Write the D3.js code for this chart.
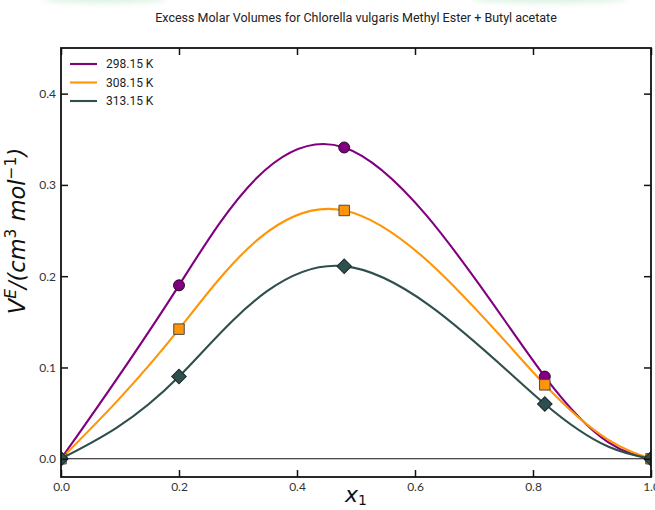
<!DOCTYPE html>
<html>
<head>
<meta charset="utf-8">
<script src="https://cdn.jsdelivr.net/npm/d3@7/dist/d3.min.js"></script>
<style>
  html, body { margin: 0; padding: 0; background: #fff; }
  svg { display: block; }
</style>
</head>
<body>
<svg id="chart" width="655" height="510"></svg>
<script>
// Mole fraction of methyl ester (x1)
const x1 = [0.0, 0.2, 0.48, 0.82, 1.0];
// Excess molar volumes (cm^3 mol^-1) at each temperature
const ve29815 = [0.0, 0.190, 0.341, 0.090, 0.0];
const ve30815 = [0.0, 0.142, 0.272, 0.081, 0.0];
const ve31315 = [0.0, 0.090, 0.211, 0.060, 0.0];
const seriesNames = ["298.15 K", "308.15 K", "313.15 K"];
const xTicks = [0.0, 0.2, 0.4, 0.6, 0.8, 1.0];
const yTicks = [0.0, 0.1, 0.2, 0.3, 0.4];

const series = [
  { name: seriesNames[0], values: ve29815, color: "#800080", edge: "#2a0a2a", shape: "circle" },
  { name: seriesNames[1], values: ve30815, color: "#ff9408", edge: "#4a4a4a", shape: "square" },
  { name: seriesNames[2], values: ve31315, color: "#2f4f4f", edge: "#1a2a2a", shape: "diamond" }
];

const svg = d3.select("#chart");
const plotL = 61, plotR = 651, plotT = 48, plotB = 477;

const x = d3.scaleLinear().domain([0, 1]).range([plotL, plotR]);
const y = d3.scaleLinear().domain([-0.02, 0.45]).range([plotB, plotT]);

// faint green glow along the top edge
const defs = svg.append("defs");
defs.append("filter").attr("id", "soft").attr("x", "-50%").attr("y", "-200%").attr("width", "200%").attr("height", "500%")
  .append("feGaussianBlur").attr("stdDeviation", 3);
defs.append("clipPath").attr("id", "plotclip")
  .append("rect").attr("x", plotL).attr("y", plotT).attr("width", plotR - plotL).attr("height", plotB - plotT);

const glow = svg.append("g").attr("filter", "url(#soft)").attr("opacity", 0.55);
glow.append("ellipse").attr("cx", 105).attr("cy", -2).attr("rx", 62).attr("ry", 5).attr("fill", "#b9e6c9");
glow.append("ellipse").attr("cx", 550).attr("cy", -2).attr("rx", 78).attr("ry", 5).attr("fill", "#b9e6c9");

// title
svg.append("text")
  .attr("x", 356).attr("y", 22)
  .attr("text-anchor", "middle")
  .attr("font-family", "Roboto, 'Noto Sans', sans-serif")
  .attr("font-size", 12.5)
  .attr("fill", "#222")
  .text("Excess Molar Volumes for Chlorella vulgaris Methyl Ester + Butyl acetate");

// zero reference line
svg.append("line")
  .attr("x1", plotL).attr("x2", plotR)
  .attr("y1", y(0)).attr("y2", y(0))
  .attr("stroke", "#111").attr("stroke-width", 1.2);

// curves and markers
const plot = svg.append("g").attr("clip-path", "url(#plotclip)");
const line = d3.line()
  .x((d, i) => x(x1[i]))
  .y(d => y(d))
  .curve(d3.curveNatural);

series.forEach(s => {
  plot.append("path")
    .attr("d", line(s.values))
    .attr("fill", "none")
    .attr("stroke", s.color)
    .attr("stroke-width", 2.1);
});

const symbolFor = {
  circle: d3.symbol().type(d3.symbolCircle).size(95),
  square: d3.symbol().type(d3.symbolSquare).size(110),
  diamond: d3.symbol().type(d3.symbolSquare).size(106)
};

series.forEach(s => {
  plot.selectAll(null)
    .data(s.values)
    .enter()
    .append("path")
    .attr("d", symbolFor[s.shape]())
    .attr("transform", (d, i) => `translate(${x(x1[i])},${y(d)})` + (s.shape === "diamond" ? " rotate(45)" : ""))
    .attr("fill", s.color)
    .attr("stroke", s.edge)
    .attr("stroke-width", 1);
});

// axes with inward ticks on all four sides
const tickFont = "Lato, 'Open Sans', sans-serif";
const fmt = d3.format(".1f");

const xBottom = svg.append("g").attr("transform", `translate(0,${plotB})`)
  .call(d3.axisBottom(x).tickValues(xTicks).tickFormat(fmt).tickSizeInner(-7).tickSizeOuter(0).tickPadding(5));
const xTop = svg.append("g").attr("transform", `translate(0,${plotT})`)
  .call(d3.axisTop(x).tickValues(xTicks).tickFormat("").tickSizeInner(-7).tickSizeOuter(0));
const yLeft = svg.append("g").attr("transform", `translate(${plotL},0)`)
  .call(d3.axisLeft(y).tickValues(yTicks).tickFormat(fmt).tickSizeInner(-7).tickSizeOuter(0).tickPadding(5));
const yRight = svg.append("g").attr("transform", `translate(${plotR},0)`)
  .call(d3.axisRight(y).tickValues(yTicks).tickFormat("").tickSizeInner(-7).tickSizeOuter(0));

[xBottom, xTop, yLeft, yRight].forEach(g => {
  g.select(".domain").remove();
  g.selectAll(".tick line").attr("stroke", "#111").attr("stroke-width", 1.5);
  g.selectAll(".tick text").attr("font-family", tickFont).attr("font-size", 12).attr("fill", "#333");
});

// frame
svg.append("rect")
  .attr("x", plotL).attr("y", plotT)
  .attr("width", plotR - plotL).attr("height", plotB - plotT)
  .attr("fill", "none").attr("stroke", "#111").attr("stroke-width", 1.8);

// legend
const legend = svg.append("g").attr("font-family", "Roboto, 'Noto Sans', sans-serif").attr("font-size", 12);
series.forEach((s, i) => {
  const ly = 64 + i * 18.5;
  legend.append("line").attr("x1", 70).attr("x2", 97).attr("y1", ly).attr("y2", ly)
    .attr("stroke", s.color).attr("stroke-width", 2.1);
  legend.append("text").attr("x", 106).attr("y", ly).attr("dy", "0.35em")
    .attr("fill", "#222").text(s.name);
});

// axis labels
const mathFont = "'DejaVu Sans', sans-serif";
const yl = svg.append("text")
  .attr("transform", "translate(25,231) rotate(-90)")
  .attr("text-anchor", "middle")
  .attr("font-family", mathFont)
  .attr("font-style", "italic")
  .attr("font-size", 22.5)
  .attr("fill", "#111");
yl.append("tspan").text("V");
yl.append("tspan").attr("font-size", 15.5).attr("dy", -9).text("E");
yl.append("tspan").attr("dy", 9).text("/(cm");
yl.append("tspan").attr("font-size", 15.5).attr("dy", -9).attr("font-style", "normal").text("3");
yl.append("tspan").attr("dy", 9).text(" mol");
yl.append("tspan").attr("font-size", 15.5).attr("dy", -9).attr("font-style", "normal").text("\u22121");
yl.append("tspan").attr("dy", 9).text(")");

const xl = svg.append("text")
  .attr("x", 356).attr("y", 502)
  .attr("text-anchor", "middle")
  .attr("font-family", mathFont)
  .attr("font-style", "italic")
  .attr("font-size", 22)
  .attr("fill", "#111");
xl.append("tspan").text("x");
xl.append("tspan").attr("font-size", 14).attr("dy", 3).attr("font-style", "normal").text("1");
</script>
</body>
</html>
